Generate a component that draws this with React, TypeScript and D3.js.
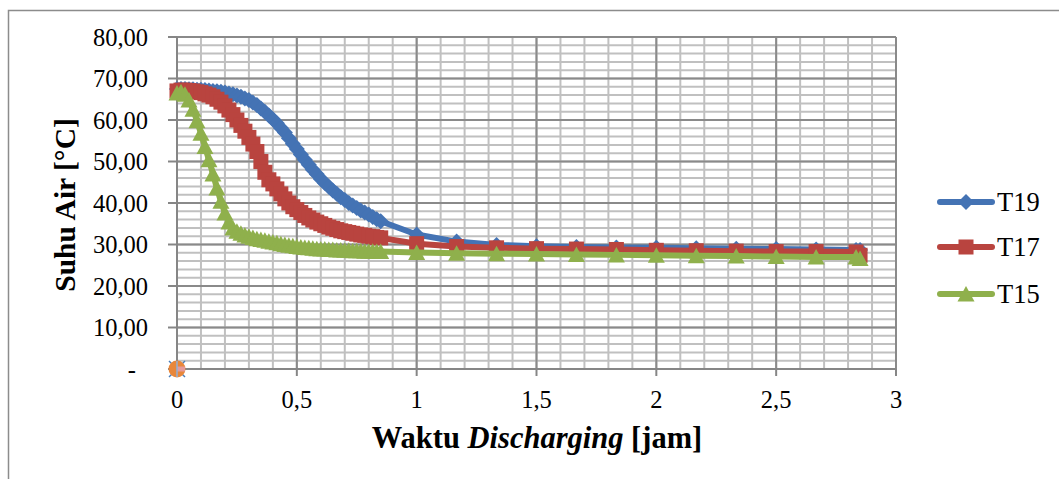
import React from "react";
import * as d3 from "d3";

// Discharging time, in minutes
const MINUTES = [
  0, 1, 2, 3, 4, 5, 6, 7, 8, 9, 10, 11, 12, 13, 14, 15, 16, 17, 18, 19, 20,
  21, 22, 23, 24, 25, 26, 27, 28, 29, 30, 31, 32, 33, 34, 35, 36, 37, 38, 39,
  40, 41, 42, 43, 44, 45, 46, 47, 48, 49, 50, 51,
  60, 70, 80, 90, 100, 110, 120, 130, 140, 150, 160, 170, 171,
];

// Water temperature [°C] per sensor
const T19 = [
  67.5, 67.5, 67.5, 67.4, 67.4, 67.3, 67.3, 67.2, 67.1, 67.0, 66.9, 66.8,
  66.6, 66.4, 66.2, 65.9, 65.6, 65.2, 64.8, 64.2, 63.6, 62.8, 62.0, 61.1,
  60.2, 59.2, 58.1, 57.0, 55.6, 54.3, 53.0, 51.7, 50.4, 49.2, 48.0, 46.9,
  45.8, 44.8, 43.9, 43.0, 42.2, 41.4, 40.7, 40.0, 39.4, 38.8, 38.2, 37.7,
  37.2, 36.6, 36.1, 35.6,
  32.4, 30.7, 29.9, 29.6, 29.4, 29.3, 29.2, 29.1, 29.0, 28.9, 28.8, 28.7, 28.7,
];

const T17 = [
  67.0, 67.2, 67.2, 67.1, 67.0, 66.8, 66.6, 66.3, 66.0, 65.6, 65.0, 64.3,
  63.4, 62.4, 61.3, 60.0, 58.7, 57.3, 55.8, 54.2, 52.4, 50.0, 47.4, 45.6,
  44.6, 43.4, 42.2, 41.0, 40.0, 39.1, 38.4, 37.7, 37.0, 36.4, 35.9, 35.4,
  35.0, 34.6, 34.2, 33.9, 33.6, 33.3, 33.1, 32.9, 32.7, 32.5, 32.3, 32.2,
  32.0, 31.9, 31.7, 31.6,
  30.2, 29.5, 29.2, 29.0, 28.9, 28.8, 28.6, 28.5, 28.4, 28.3, 28.3, 28.2, 27.4,
];

const T15 = [
  66.5, 66.8, 66.2, 64.8, 62.6, 59.8, 56.8, 53.6, 50.4, 47.0, 43.6, 40.4,
  37.6, 35.4, 34.0, 33.2, 32.7, 32.3, 32.0, 31.7, 31.4, 31.2, 31.0, 30.8,
  30.6, 30.4, 30.2, 30.0, 29.8, 29.7, 29.5, 29.4, 29.3, 29.2, 29.1, 29.0,
  28.9, 28.9, 28.8, 28.8, 28.7, 28.7, 28.6, 28.6, 28.5, 28.5, 28.5, 28.4,
  28.4, 28.4, 28.3, 28.3,
  28.1, 27.9, 27.8, 27.7, 27.6, 27.5, 27.4, 27.3, 27.2, 27.1, 27.0, 27.0, 26.6,
];

const SERIES_NAMES = ["T19", "T17", "T15"];
const SERIES_VALUES = [T19, T17, T15];
const SERIES_COLORS = ["#4473B4", "#B9443F", "#8FB04C"];
const SERIES_MARKERS = ["diamond", "square", "triangle"];

const X_TICKS = [0, 0.5, 1, 1.5, 2, 2.5, 3];
const X_TICK_LABELS = ["0", "0,5", "1", "1,5", "2", "2,5", "3"];
const Y_TICKS = [0, 10, 20, 30, 40, 50, 60, 70, 80];
const Y_TICK_LABELS = ["-", "10,00", "20,00", "30,00", "40,00", "50,00", "60,00", "70,00", "80,00"];

const FONT = "'Liberation Serif', 'Times New Roman', serif";

const W = 1059;
const H = 479;
const plot = { left: 177, right: 896, top: 37, bottom: 369 };

function Marker({ kind, color, cx, cy }: { kind: string; color: string; cx: number; cy: number }) {
  if (kind === "diamond") {
    return <path d={`M${cx},${cy - 8}L${cx + 8},${cy}L${cx},${cy + 8}L${cx - 8},${cy}Z`} fill={color} />;
  }
  if (kind === "square") {
    return <rect x={cx - 7.5} y={cy - 7.5} width={15} height={15} fill={color} />;
  }
  return <path d={`M${cx},${cy - 8}L${cx + 8.5},${cy + 7.5}L${cx - 8.5},${cy + 7.5}Z`} fill={color} />;
}

export default function App() {
  const x = d3.scaleLinear().domain([0, 3]).range([plot.left, plot.right]);
  const y = d3.scaleLinear().domain([0, 80]).range([plot.bottom, plot.top]);

  const minorX = x.ticks(30);
  const minorY = y.ticks(40);
  const majorX = x.ticks(6);
  const majorY = y.ticks(8);

  const line = d3
    .line<number>()
    .x((_, i) => x(MINUTES[i] / 60))
    .y((v) => y(v));

  const legendRows = [202, 247, 294];

  return (
    <svg
      width={W}
      height={H}
      style={{ position: "absolute", left: 0, top: 0, background: "#fff" }}
      fontFamily={FONT}
    >
      <rect x={0} y={0} width={W} height={H} fill="#fff" />
      <rect x={8.5} y={10.5} width={1200} height={600} fill="none" stroke="#8c8c8c" strokeWidth={1.5} />

      {/* minor gridlines */}
      <g stroke="#c0c0c0" strokeWidth={2}>
        {minorX.map((t) => (
          <line key={`mx${t}`} x1={x(t)} x2={x(t)} y1={plot.top} y2={plot.bottom} />
        ))}
        {minorY.map((t) => (
          <line key={`my${t}`} x1={plot.left} x2={plot.right} y1={y(t)} y2={y(t)} />
        ))}
      </g>
      {/* major gridlines */}
      <g stroke="#8a8a8a" strokeWidth={2}>
        {majorX.map((t) => (
          <line key={`Mx${t}`} x1={x(t)} x2={x(t)} y1={plot.top} y2={plot.bottom} />
        ))}
        {majorY.map((t) => (
          <line key={`My${t}`} x1={plot.left} x2={plot.right} y1={y(t)} y2={y(t)} />
        ))}
      </g>

      {/* axes and tick marks */}
      <g stroke="#868686" strokeWidth={2}>
        <line x1={plot.left} x2={plot.left} y1={plot.top} y2={plot.bottom + 7} />
        <line x1={plot.left - 9} x2={plot.right} y1={plot.bottom} y2={plot.bottom} />
        {X_TICKS.map((t) => (
          <line key={`xt${t}`} x1={x(t)} x2={x(t)} y1={plot.bottom} y2={plot.bottom + 7} />
        ))}
        {Y_TICKS.map((t) => (
          <line key={`yt${t}`} x1={plot.left - 9} x2={plot.left} y1={y(t)} y2={y(t)} />
        ))}
      </g>

      {/* tick labels */}
      <g fontSize={24.5} fill="#000">
        {X_TICKS.map((t, i) => (
          <text key={`xl${t}`} x={x(t)} y={plot.bottom + 39} textAnchor="middle">
            {X_TICK_LABELS[i]}
          </text>
        ))}
        {Y_TICKS.map((t, i) => (
          <text key={`yl${t}`} x={t === 0 ? 136 : 148} y={y(t) + 8.5} textAnchor="end">
            {Y_TICK_LABELS[i]}
          </text>
        ))}
      </g>

      {/* series */}
      {SERIES_VALUES.map((vals, s) => (
        <g key={SERIES_NAMES[s]}>
          <path
            d={line(vals) || ""}
            fill="none"
            stroke={SERIES_COLORS[s]}
            strokeWidth={6}
            strokeLinejoin="round"
            strokeLinecap="round"
          />
          {vals.map((v, i) => (
            <Marker key={i} kind={SERIES_MARKERS[s]} color={SERIES_COLORS[s]} cx={x(MINUTES[i] / 60)} cy={y(v)} />
          ))}
        </g>
      ))}

      {/* extra markers at the origin */}
      <g>
        <line x1={x(0) - 8} y1={y(0) - 8} x2={x(0) + 8} y2={y(0) + 8} stroke="#4A7EBB" strokeWidth={1.5} />
        <line x1={x(0) - 8} y1={y(0) + 8} x2={x(0) + 8} y2={y(0) - 8} stroke="#4A7EBB" strokeWidth={1.5} />
        <circle cx={x(0)} cy={y(0)} r={8.5} fill="#E8873A" />
        <rect x={x(0)} y={y(0) - 2.5} width={8} height={5} fill="#E59A9A" />
        <line x1={x(0)} x2={x(0)} y1={y(0) - 8} y2={y(0) + 8} stroke="#8FB0D8" strokeWidth={1.5} />
      </g>

      {/* legend */}
      {SERIES_NAMES.map((name, s) => (
        <g key={`lg${name}`}>
          <line
            x1={940}
            x2={992}
            y1={legendRows[s]}
            y2={legendRows[s]}
            stroke={SERIES_COLORS[s]}
            strokeWidth={6}
            strokeLinecap="round"
          />
          <Marker kind={SERIES_MARKERS[s]} color={SERIES_COLORS[s]} cx={966} cy={legendRows[s]} />
          <text x={997} y={legendRows[s] + 9} fontSize={26.5} fill="#000">
            {name}
          </text>
        </g>
      ))}

      {/* axis titles */}
      <text
        transform="translate(75,205) rotate(-90)"
        textAnchor="middle"
        fontSize={29.5}
        fontWeight="bold"
        fill="#000"
      >
        Suhu Air [°C]
      </text>
      <text x={537} y={448} textAnchor="middle" fontSize={30.5} fontWeight="bold" fill="#000">
        {"Waktu "}
        <tspan fontStyle="italic">Discharging</tspan>
        {" [jam]"}
      </text>
    </svg>
  );
}
